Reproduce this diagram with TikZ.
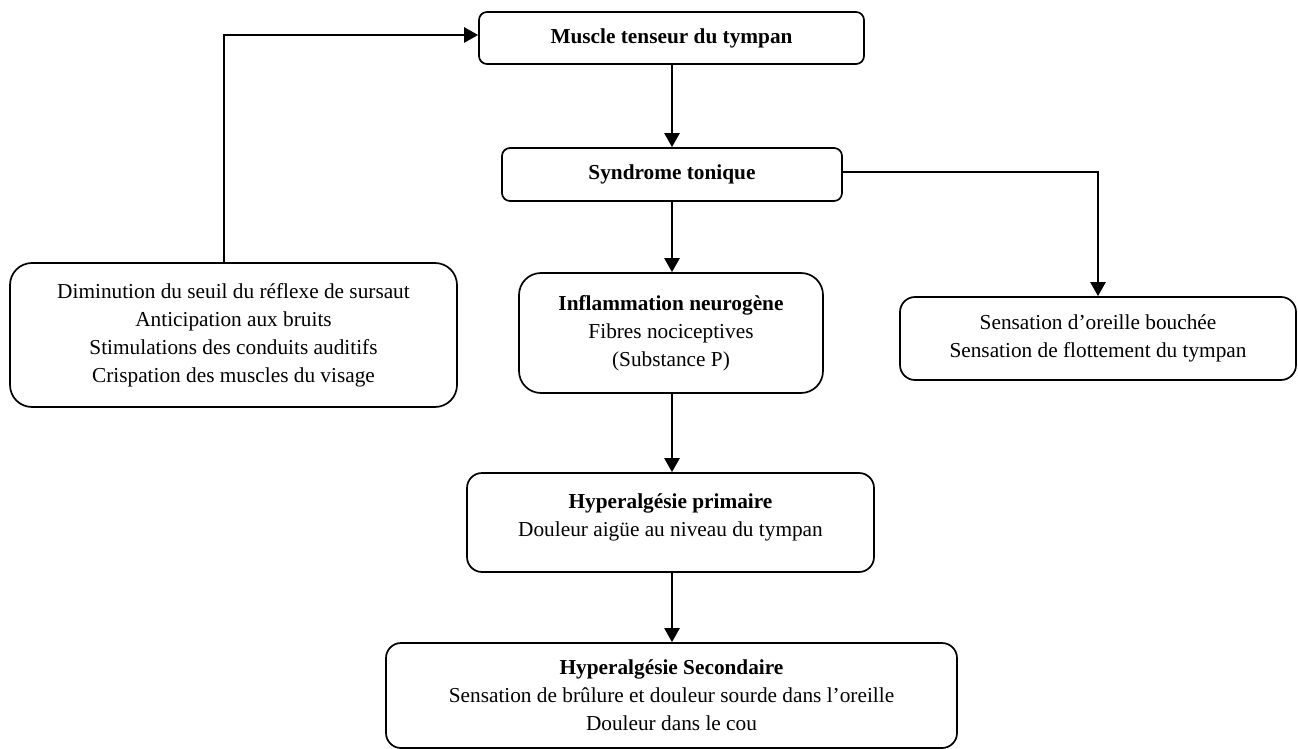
\documentclass[tikz,border=0pt]{standalone}
\usepackage{fontspec}
\setmainfont{Liberation Serif}
\usetikzlibrary{arrows.meta}
\begin{document}
\begin{tikzpicture}[x=1pt,y=-1pt,
  box/.style={draw, line width=1.7pt, align=center, inner sep=0pt,
    font=\fontsize{21.3}{28}\selectfont},
  arr/.style={line width=2.4pt, -{Triangle[length=14pt,width=15pt]}}]
\useasboundingbox (0,0) rectangle (1298,749);
\node[box, rounded corners=8pt, minimum width=385pt, minimum height=52pt] (n1) at (671.5,38) {\textbf{Muscle tenseur du tympan}};
\node[box, rounded corners=8pt, minimum width=340pt, minimum height=53pt] (n2) at (672,174.5) {\textbf{Syndrome tonique}};
\node[box, rounded corners=22pt, minimum width=447pt, minimum height=144pt] (n3) at (233.5,335) {Diminution du seuil du réflexe de sursaut\\Anticipation aux bruits\\Stimulations des conduits auditifs\\Crispation des muscles du visage};
\node[box, rounded corners=22pt, minimum width=304pt, minimum height=120pt] (n4) at (671,333) {\textbf{Inflammation neurogène}\\Fibres nociceptives\\(Substance P)};
\node[box, rounded corners=15pt, minimum width=396pt, minimum height=83pt] (n5) at (1098,338.5) {Sensation d’oreille bouchée\\Sensation de flottement du tympan};
\node[box, rounded corners=15pt, minimum width=407pt, minimum height=99pt] (n6) at (670.5,522.5) {\textbf{Hyperalgésie primaire}\\Douleur aigüe au niveau du tympan\\[-14pt]\mbox{}};
\node[box, rounded corners=15pt, minimum width=571pt, minimum height=105pt] (n7) at (671.5,695.5) {\textbf{Hyperalgésie Secondaire}\\Sensation de brûlure et douleur sourde dans l’oreille\\Douleur dans le cou};
\coordinate (c3) at (224,263);
\draw[arr] (c3) |- ([yshift=3pt]n1.west);
\draw[arr] (n1.south -| 672,0) -- (n2.north -| 672,0);
\draw[arr] (n2.south -| 672,0) -- (n4.north -| 672,0);
\draw[arr] ([yshift=2.5pt]n2.east) -| (n5.north);
\draw[arr] (n4.south -| 672,0) -- (n6.north -| 672,0);
\draw[arr] (n6.south -| 672,0) -- (n7.north -| 672,0);
\end{tikzpicture}
\end{document}
